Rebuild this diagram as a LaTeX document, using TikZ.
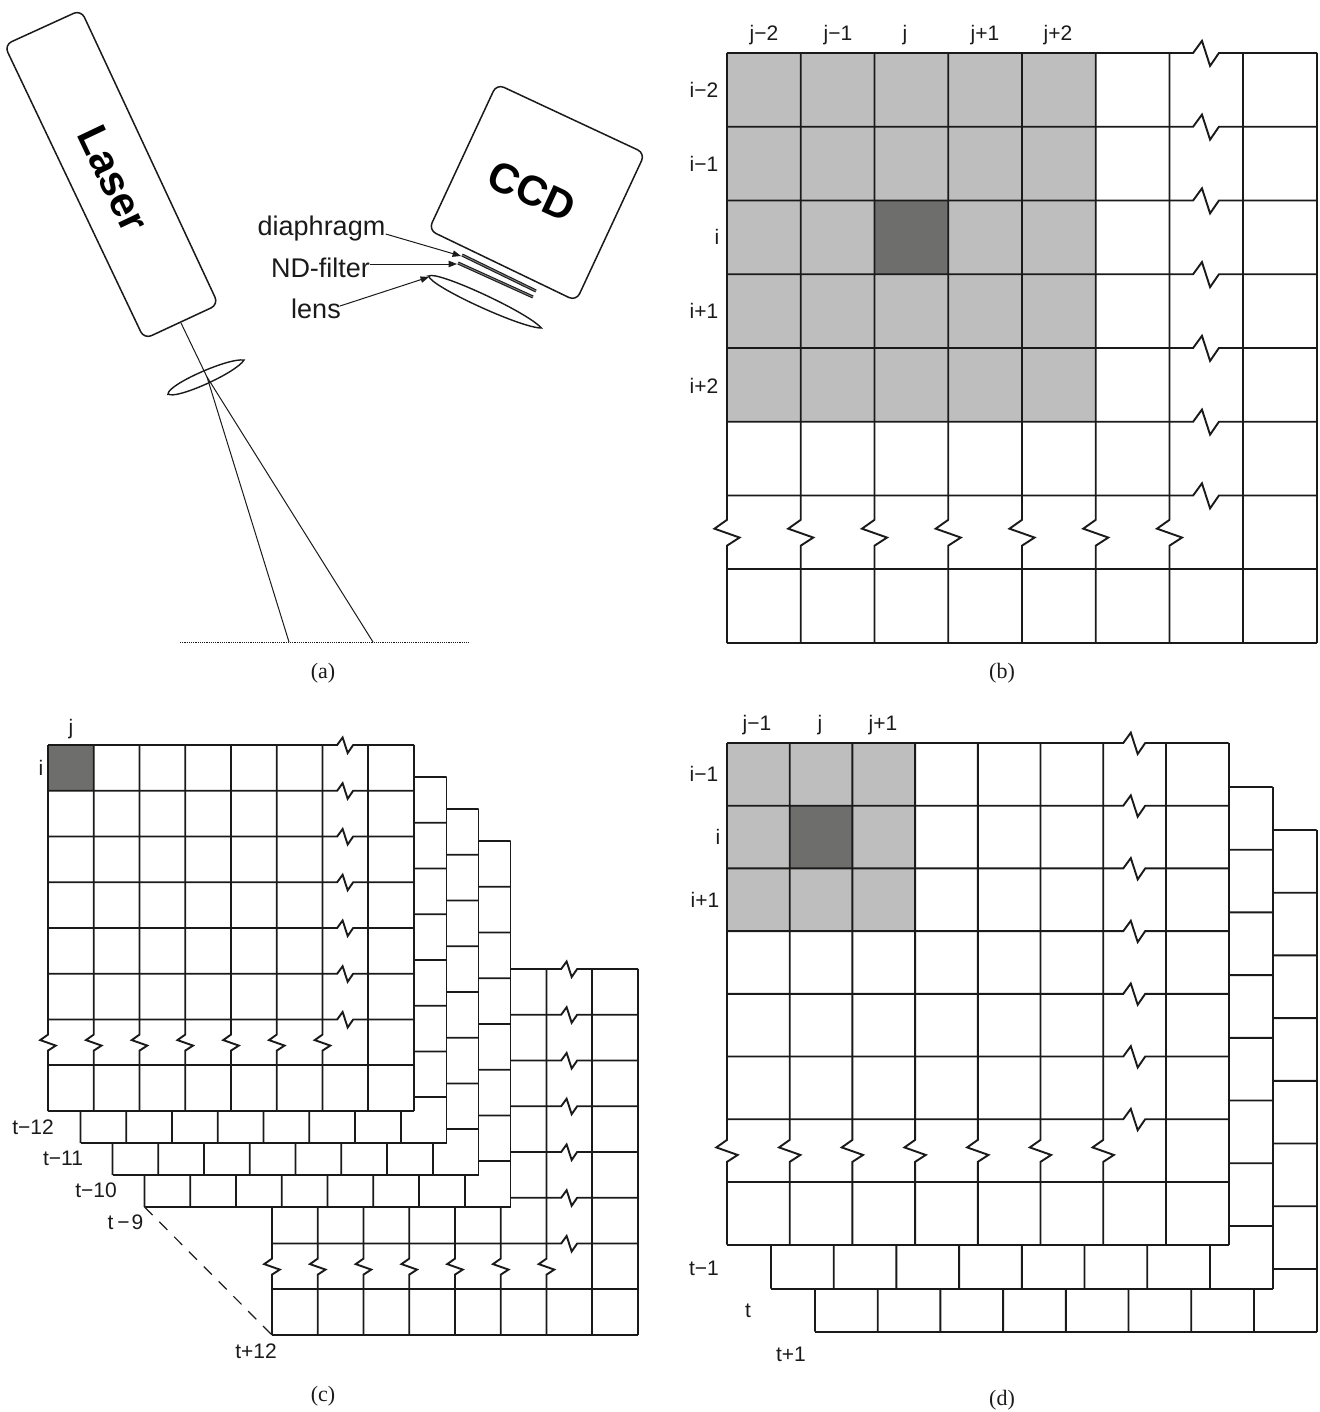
\documentclass[tikz,border=0pt]{standalone}
\usepackage{fontspec}
\setmainfont{Liberation Sans}
\newfontfamily\capfont{Liberation Serif}
\usetikzlibrary{arrows.meta}
\definecolor{lightcell}{RGB}{189,190,189}
\definecolor{darkcell}{RGB}{110,110,108}
\definecolor{ink}{RGB}{26,26,26}
\tikzset{
  gridline/.style={draw=ink,line width=0.95pt,line join=miter},
  optic/.style={draw=ink,line width=0.7pt},
  housing/.style={draw=ink,line width=0.75pt,fill=white,rounded corners=4pt},
  beam/.style={draw=ink,line width=0.5pt},
  filterbar/.style={draw=ink,line width=0.55pt,double=gray,double distance=0.45pt},
  leader/.style={draw=ink,line width=0.5pt,-{Stealth[length=4.2pt,width=3.2pt,inset=0pt]}},
  biglabel/.style={font=\fontsize{13.5}{15}\selectfont,text=ink,inner sep=0pt},
  ticklabel/.style={font=\fontsize{10.5}{12}\selectfont,text=ink,inner sep=0pt},
  devicelabel/.style={font=\bfseries\fontsize{21}{25}\selectfont,text=black,inner sep=0pt},
  caption/.style={font=\capfont\fontsize{11}{13}\selectfont,text=ink,inner sep=0pt},
}
% #1 half length, #2 half height of the tapered lens outline
\newcommand{\lensoutline}[2]{%
  (-#1,0) .. controls (-0.92*#1,-1.33*#2) and (0.7*#1,-1.33*#2) .. (#1,0)
          .. controls (0.7*#1,1.33*#2) and (-0.92*#1,1.33*#2) .. cycle}
% #1 x0, #2 y0, #3 cell size, #4 shaded cells drawn in unit coordinates
\newcommand{\gridlayer}[4]{%
  \begin{scope}[shift={(#1,#2)},scale=#3]
    \fill[white] (0,0) rectangle (8,8);
    #4
    \foreach \r in {0,...,6}{
      \draw[gridline] (0,\r) -- (6.32,\r) -- (6.44,\r-.165) -- (6.55,\r+.175) -- (6.67,\r) -- (8,\r);
    }
    \foreach \r in {7,8}{ \draw[gridline] (0,\r) -- (8,\r); }
    \foreach \c in {0,...,6}{
      \draw[gridline] (\c,0) -- (\c,6.33) -- (\c-.17,6.45) -- (\c+.17,6.57) -- (\c,6.68) -- (\c,8);
    }
    \foreach \c in {7,8}{ \draw[gridline] (\c,0) -- (\c,8); }
  \end{scope}%
}
\begin{document}
\begin{tikzpicture}[x=0.5pt,y=-0.5pt]
\useasboundingbox (0,0) rectangle (1320,1412);

% ---------- panel (a)
\draw[draw=ink,line width=0.5pt,dash pattern=on 0.6pt off 0.5pt] (180,642) -- (470,642);
\coordinate (beamtop) at (181,323);
\coordinate (focus) at (207,377);
\coordinate (spotl) at (289,642);
\coordinate (spotr) at (373,642);
\draw[beam] (beamtop) -- (focus) -- (spotl);
\draw[beam] (focus) -- (spotr);
\draw[optic,shift={(206,377)},rotate=24] \lensoutline{41.5}{6.5};
\draw[housing] (4.3,45) -- (81,10) -- (218.4,304.5) -- (144.2,339) -- cycle;
\node[devicelabel,rotate=-64.6] (laser) at (113,179) {Laser};
\draw[housing] (496.7,84) -- (645,153.3) -- (576.2,301) -- (428.7,230) -- cycle;
\node[devicelabel,rotate=-24.8] (ccd) at (532,191) {CCD};
\draw[filterbar] (462,255) -- (536,291);
\draw[filterbar] (458,263) -- (533,297);
\draw[optic,shift={(485,302)},rotate=-24.8] \lensoutline{62}{6.5};
\node[biglabel,anchor=base] (diaph) at (321.5,235) {diaphragm};
\node[biglabel,anchor=base] (nd) at (320.5,278) {ND-filter};
\node[biglabel,anchor=base] (lensl) at (316,318) {lens};
\coordinate (diaphtip) at (461,256);
\coordinate (ndtip) at (457,264);
\coordinate (lenstip) at (429,277);
\draw[leader] (diaph.base east) ++(0,-1) -- (diaphtip);
\draw[leader] (370,264) -- (ndtip);
\draw[leader] (340,306) -- (lenstip);
\node[caption] (capa) at (323,673) {(a)};

% ---------- panel (b)
\gridlayer{727}{53}{73.75}{
  \fill[lightcell] (0,0) rectangle (5,5);
  \fill[darkcell] (2,2) rectangle (3,3);
}
\node[ticklabel] (bj1) at (764,35) {j−2};
\node[ticklabel] (bj2) at (838,35) {j−1};
\node[ticklabel] (bj3) at (905,35) {j};
\node[ticklabel] (bj4) at (985,35) {j+1};
\node[ticklabel] (bj5) at (1058,35) {j+2};
\node[ticklabel] (bi1) at (704,90) {i−2};
\node[ticklabel] (bi2) at (704,164) {i−1};
\node[ticklabel] (bi3) at (717,237) {i};
\node[ticklabel] (bi4) at (704,311) {i+1};
\node[ticklabel] (bi5) at (704,386) {i+2};
\node[caption] (capb) at (1002,673) {(b)};

% ---------- panel (c)
\gridlayer{272}{969}{45.75}{}
\gridlayer{144.5}{841}{45.75}{}
\gridlayer{112.5}{809}{45.75}{}
\gridlayer{80.5}{777}{45.75}{}
\gridlayer{48}{745}{45.75}{
  \fill[darkcell] (0,0) rectangle (1,1);
}
\coordinate (dashs) at (144.5,1207);
\coordinate (dashe) at (272,1335);
\draw[draw=ink,line width=0.6pt,dash pattern=on 5.7pt off 4.8pt] (dashs) -- (dashe);
\node[ticklabel] (cj) at (71,729) {j};
\node[ticklabel] (ci) at (41,768) {i};
\node[ticklabel] (ct1) at (33,1127) {t−12};
\node[ticklabel] (ct2) at (63,1158) {t−11};
\node[ticklabel] (ct3) at (96,1190) {t−10};
\node[ticklabel] (ct4) at (125.5,1222) {t\kern2pt−\kern1pt 9};
\node[ticklabel] (ct5) at (256,1351) {t+12};
\node[caption] (capc) at (323,1396) {(c)};

% ---------- panel (d)
\gridlayer{815}{830}{62.7}{}
\gridlayer{771}{787}{62.7}{}
\gridlayer{727}{743}{62.7}{
  \fill[lightcell] (0,0) rectangle (3,3);
  \fill[darkcell] (1,1) rectangle (2,2);
}
\node[ticklabel] (dj1) at (757,725) {j−1};
\node[ticklabel] (dj2) at (820,725) {j};
\node[ticklabel] (dj3) at (883,725) {j+1};
\node[ticklabel] (di1) at (704,774) {i−1};
\node[ticklabel] (di2) at (718,837) {i};
\node[ticklabel] (di3) at (705,900) {i+1};
\node[ticklabel] (dt1) at (704,1268) {t−1};
\node[ticklabel] (dt2) at (748,1311) {t};
\node[ticklabel] (dt3) at (791,1354) {t+1};
\node[caption] (capd) at (1002,1400) {(d)};
\end{tikzpicture}
\end{document}
